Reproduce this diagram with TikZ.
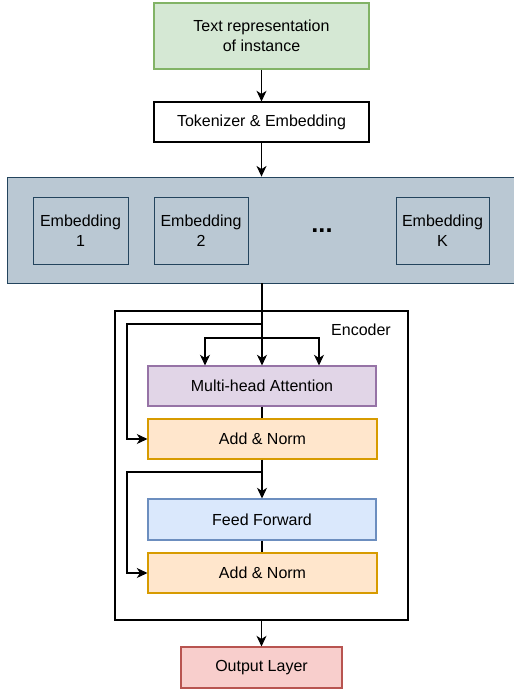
\documentclass[tikz,border=0pt]{standalone}
\usepackage{fontspec}
\setmainfont{Liberation Sans}
\usetikzlibrary{arrows.meta,positioning}
\definecolor{gfill}{HTML}{D5E8D4}\definecolor{gline}{HTML}{82B366}
\definecolor{pfill}{HTML}{BAC8D3}\definecolor{pline}{HTML}{23445D}
\definecolor{mfill}{HTML}{E1D5E7}\definecolor{mline}{HTML}{9673A6}
\definecolor{ofill}{HTML}{FFE6CC}\definecolor{oline}{HTML}{D79B00}
\definecolor{bfill}{HTML}{DAE8FC}\definecolor{bline}{HTML}{6C8EBF}
\definecolor{rfill}{HTML}{F8CECC}\definecolor{rline}{HTML}{B85450}
\def\u{0.75pt}
\tikzset{
  box/.style={draw, rectangle, inner sep=0pt, align=center, line width=0.8pt,
    font=\fontsize{12}{15}\selectfont},
  arr/.style={draw, line width=0.8pt, -{Stealth[length=8pt,width=7.5pt,inset=2.4pt]}},
  ln/.style={draw, line width=0.8pt},
}
\begin{document}
\begin{tikzpicture}[x=0.75pt,y=-0.75pt]
\useasboundingbox (0,0) rectangle (513,691);
% top
\node[box, fill=gfill, draw=gline, minimum width=215*\u, minimum height=66*\u] (txt) at (261.5,36) {Text representation\\of instance};
\node[box, fill=white, draw=black, minimum width=215*\u, minimum height=40*\u] (tok) at (261.5,122) {Tokenizer \& Embedding};
% panel
\node[box, fill=pfill, draw=pline, line width=0.6pt, minimum width=509*\u, minimum height=106*\u] (panel) at (261.5,230) {};
\node[box, fill=pfill, draw=pline, line width=0.6pt, minimum width=95*\u, minimum height=67*\u] (e1) at (80.5,230.5) {Embedding\\1};
\node[box, fill=pfill, draw=pline, line width=0.6pt, minimum width=94*\u, minimum height=67*\u] (e2) at (201,230.5) {Embedding\\2};
\node[box, fill=pfill, draw=pline, line width=0.6pt, minimum width=93*\u, minimum height=67*\u] (eK) at (442.5,230.5) {Embedding\\K};
\node[font=\fontsize{19}{19}\selectfont\bfseries, inner sep=0pt] (dots) at (322,231) {...};
% encoder
\node[box, fill=white, draw=black, minimum width=293*\u, minimum height=309*\u] (enc) at (261.5,465.5) {};
\node[font=\fontsize{12}{15}\selectfont, inner sep=0pt] (enclab) at (361,330) {Encoder};
\node[box, fill=mfill, draw=mline, minimum width=228*\u, minimum height=40*\u] (mha) at (262,386) {Multi-head Attention};
\node[box, fill=ofill, draw=oline, minimum width=229*\u, minimum height=40*\u] (an1) at (262.5,439) {Add \& Norm};
\node[box, fill=bfill, draw=bline, minimum width=228*\u, minimum height=41*\u] (ff) at (262,519.5) {Feed Forward};
\node[box, fill=ofill, draw=oline, minimum width=229*\u, minimum height=40*\u] (an2) at (262.5,573) {Add \& Norm};
\node[box, fill=rfill, draw=rline, minimum width=161*\u, minimum height=41*\u] (out) at (261.5,667.5) {Output Layer};
% connectors
\draw[arr] (txt.south) -- (tok.north);
\draw[arr] (tok.south) -- (tok.south |- panel.north);
\coordinate (pb) at (262,283);
\coordinate (br) at (262,338);
\coordinate (l1) at (262,324);
\coordinate (l2) at (262,472);
\coordinate (s1) at (127,439);
\coordinate (s2) at (127,573);
\draw[arr] (pb) -- (mha.north);
\draw[arr] (br) -| ([xshift=-57*\u]mha.north);
\draw[arr] (br) -| ([xshift=57*\u]mha.north);
\draw[arr] (l1) -| (s1) -- (an1.west);
\draw[ln] (mha.south) -- (mha.south |- an1.north);
\draw[arr] (an1.south -| mha.south) -- (ff.north);
\draw[arr] (l2) -| (s2) -- (an2.west);
\draw[ln] (ff.south) -- (ff.south |- an2.north);
\draw[arr] (enc.south) -- (out.north);
\end{tikzpicture}
\end{document}
